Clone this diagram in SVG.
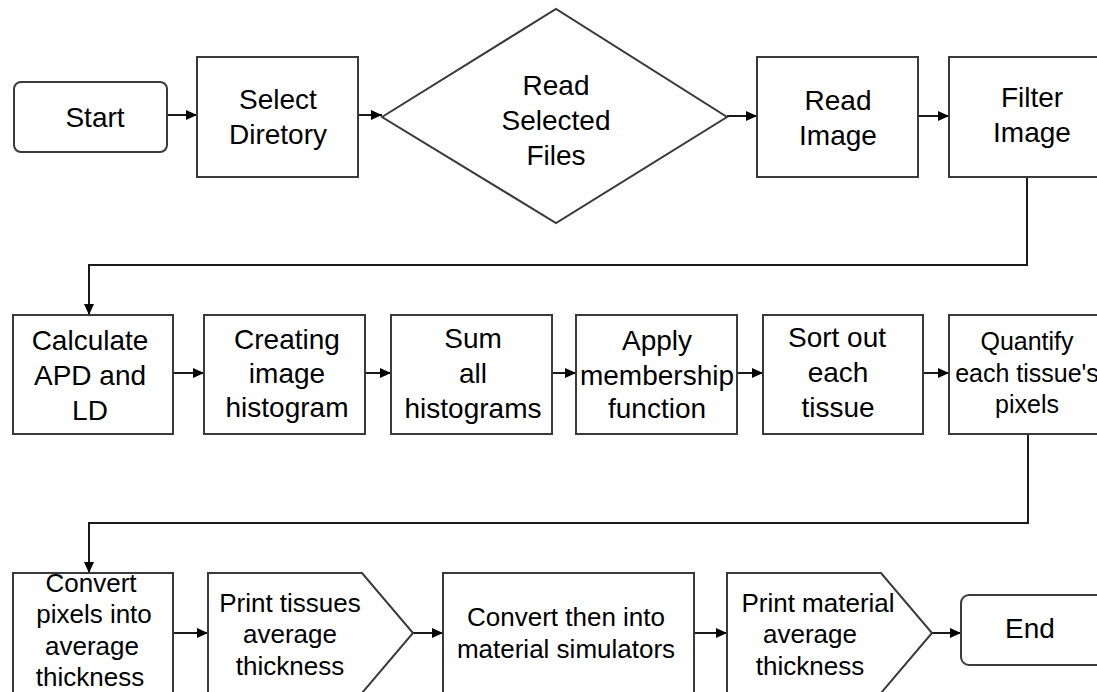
<svg xmlns="http://www.w3.org/2000/svg" width="1097" height="692" viewBox="0 0 1097 692">
<style>
.s{fill:#fff;stroke:#3a3a3a;stroke-width:2}
.c{fill:none;stroke:#1a1a1a;stroke-width:2}
text{font-family:"Liberation Sans",Arial,sans-serif;font-size:28px;fill:#000;text-anchor:middle}
.m text{font-size:26px}
.q text{font-size:25px}
</style>
<defs>
<marker id="a" markerUnits="userSpaceOnUse" markerWidth="12" markerHeight="12" refX="11" refY="6" orient="auto">
<path d="M0,1 L11,6 L0,11 Z" fill="#000"/>
</marker>
</defs>
<g id="connectors">
<line class="c" x1="167" y1="115" x2="197" y2="115" marker-end="url(#a)"/>
<line class="c" x1="358" y1="115" x2="382" y2="115" marker-end="url(#a)"/>
<line class="c" x1="727" y1="116" x2="757" y2="116" marker-end="url(#a)"/>
<line class="c" x1="918" y1="116" x2="949" y2="116" marker-end="url(#a)"/>
<polyline class="c" points="1027,177 1027,265 89,265 89,315" marker-end="url(#a)"/>
<line class="c" x1="173" y1="373" x2="204" y2="373" marker-end="url(#a)"/>
<line class="c" x1="365" y1="373" x2="391" y2="373" marker-end="url(#a)"/>
<line class="c" x1="552" y1="373" x2="576" y2="373" marker-end="url(#a)"/>
<line class="c" x1="737" y1="373" x2="763" y2="373" marker-end="url(#a)"/>
<line class="c" x1="923" y1="373" x2="949" y2="373" marker-end="url(#a)"/>
<polyline class="c" points="1028,434 1028,523 89,523 89,573" marker-end="url(#a)"/>
<line class="c" x1="173" y1="633" x2="208" y2="633" marker-end="url(#a)"/>
<line class="c" x1="413" y1="633" x2="443" y2="633" marker-end="url(#a)"/>
<line class="c" x1="694" y1="633" x2="727" y2="633" marker-end="url(#a)"/>
<line class="c" x1="932" y1="633" x2="961" y2="633" marker-end="url(#a)"/>
</g>
<g id="start"><rect class="s" x="14" y="82" width="153" height="70" rx="7"/><text x="95" y="127">Start</text></g>
<g id="select"><rect class="s" x="197" y="57" width="161" height="120"/><text x="278" y="109">Select</text><text x="278" y="144">Diretory</text></g>
<g id="readfiles"><polygon class="s" points="382,117 556,9 727,117 556,223"/><text x="556" y="95">Read</text><text x="556" y="130">Selected</text><text x="556" y="165">Files</text></g>
<g id="readimage"><rect class="s" x="757" y="57" width="161" height="120"/><text x="838" y="110">Read</text><text x="838" y="145">Image</text></g>
<g id="filter"><rect class="s" x="949" y="57" width="161" height="120"/><text x="1032" y="107">Filter</text><text x="1032" y="142">Image</text></g>
<g id="calc"><rect class="s" x="13" y="315" width="160" height="119"/><text x="90" y="350">Calculate</text><text x="90" y="385">APD and</text><text x="90" y="420">LD</text></g>
<g id="hist"><rect class="s" x="204" y="315" width="161" height="119"/><text x="287" y="349">Creating</text><text x="287" y="383">image</text><text x="287" y="417">histogram</text></g>
<g id="sum"><rect class="s" x="391" y="315" width="161" height="119"/><text x="473" y="348">Sum</text><text x="473" y="383">all</text><text x="473" y="418">histograms</text></g>
<g id="apply"><rect class="s" x="576" y="315" width="161" height="119"/><text x="657" y="350">Apply</text><text x="657" y="385">membership</text><text x="657" y="418">function</text></g>
<g id="sort"><rect class="s" x="763" y="315" width="160" height="119"/><text x="837" y="347">Sort out</text><text x="838" y="382">each</text><text x="838" y="417">tissue</text></g>
<g id="quantify" class="q"><rect class="s" x="949" y="315" width="161" height="119"/><text x="1027" y="350">Quantify</text><text x="1027" y="382">each tissue's</text><text x="1027" y="413">pixels</text></g>
<g id="convertpx" class="m"><rect class="s" x="13" y="573" width="160" height="122"/><text x="91" y="592">Convert</text><text x="94" y="623">pixels into</text><text x="92" y="655">average</text><text x="90" y="686">thickness</text></g>
<g id="printtissues" class="m"><polygon class="s" points="208,573 362,573 413,633 362,693 208,693"/><text x="290" y="612">Print tissues</text><text x="290" y="643">average</text><text x="290" y="675">thickness</text></g>
<g id="convertmat" class="m"><rect class="s" x="443" y="573" width="251" height="122"/><text x="566" y="626">Convert then into</text><text x="566" y="658">material simulators</text></g>
<g id="printmat" class="m"><polygon class="s" points="727,573 881,573 932,633 881,693 727,693"/><text x="818" y="612">Print material</text><text x="810" y="643">average</text><text x="810" y="675">thickness</text></g>
<g id="end"><rect class="s" x="961" y="595" width="150" height="70" rx="8"/><text x="1030" y="638">End</text></g>
</svg>
